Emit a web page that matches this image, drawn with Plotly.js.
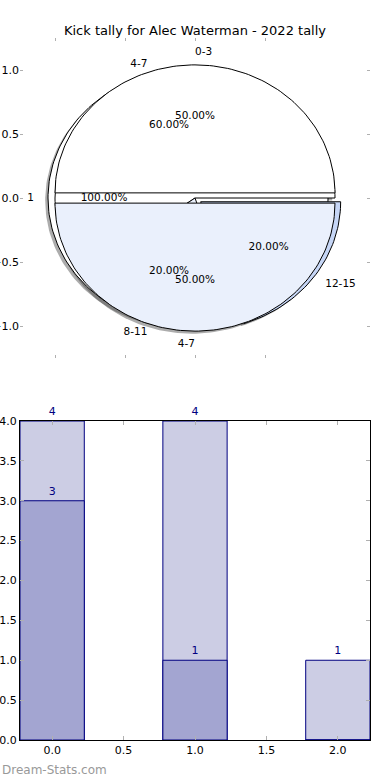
<!DOCTYPE html>
<html><head><meta charset="utf-8">
<script src="https://cdn.plot.ly/plotly-3.0.1.min.js"></script>
<style>html,body{margin:0;padding:0;background:#fff}</style>
</head><body><div id="chart" style="width:390px;height:780px"></div>
<script>
// ---- data ----
const titleText = 'Kick tally for Alec Waterman - 2022 tally';
const pieA_labels = ['1'];
const pieA_values = [1];
const pieB_labels = ['4-7', '8-11', '12-15'];
const pieB_values = [3, 1, 1];
const pieC_labels = ['0-3', '4-7'];
const pieC_values = [1, 1];
const barX = [0, 1, 2];
const barTotal = [4, 4, 1];
const barPart = [3, 1, 0];
const watermark = 'Dream-Stats.com';

// ---- styling ----
const pieA_explode = [0.05];
const pieB_explode = [0, 0, 0.05];
const pieC_explode = [0.04, 0.04];
const pieA_colors = ['#ffffff'];
const pieB_colors = ['#ffffff', '#eaf0fc', '#c6d6f6'];
const pieC_colors = ['#ffffff', '#eaf0fc'];
const FONT = 'DejaVu Sans, sans-serif';
const W = 390, H = 780, M = {l: 20, r: 20, t: 38, b: 40};
const plotH = H - M.t - M.b;

// matplotlib-style pie geometry (start at 3 o'clock, counterclockwise)
function pieWedges(values, explode) {
  const tot = values.reduce((a, b) => a + b, 0);
  let a0 = 0;
  return values.map((v, i) => {
    const a1 = a0 + 360 * v / tot;
    const mid = (a0 + a1) / 2 * Math.PI / 180;
    const e = explode[i] || 0;
    const cx = e * Math.cos(mid), cy = e * Math.sin(mid);
    const xs = [], ys = [];
    const full = (a1 - a0) >= 359.999;
    if (!full) { xs.push(cx); ys.push(cy); }
    const n = Math.max(2, Math.ceil((a1 - a0) / 1.5));
    for (let k = 0; k <= n; k++) {
      const t = (a0 + (a1 - a0) * k / n) * Math.PI / 180;
      xs.push(cx + Math.cos(t)); ys.push(cy + Math.sin(t));
    }
    if (!full) { xs.push(cx); ys.push(cy); }
    const w = {xs, ys, c: Math.cos(mid), s: Math.sin(mid), e, frac: v / tot};
    a0 = a1;
    return w;
  });
}
const pies = [
  {labels: pieA_labels, wedges: pieWedges(pieA_values, pieA_explode), colors: pieA_colors},
  {labels: pieB_labels, wedges: pieWedges(pieB_values, pieB_explode), colors: pieB_colors},
  {labels: pieC_labels, wedges: pieWedges(pieC_values, pieC_explode), colors: pieC_colors}
];
const traces = [];
const base = {type: 'scatter', xaxis: 'x', yaxis: 'y', hoverinfo: 'skip', showlegend: false, cliponaxis: false};
// shadows
pies.forEach(p => p.wedges.forEach(w => {
  traces.push(Object.assign({}, base, {x: w.xs.map(v => v - 0.02), y: w.ys.map(v => v - 0.02),
    mode: 'lines', fill: 'toself', fillcolor: 'rgba(70,70,70,0.45)', line: {width: 0}}));
}));
// wedges
pies.forEach(p => p.wedges.forEach((w, i) => {
  traces.push(Object.assign({}, base, {x: w.xs, y: w.ys, mode: 'lines', fill: 'toself',
    fillcolor: p.colors[i], line: {color: '#000', width: 1}}));
}));
// texts (percent at 0.6, labels at 1.1 of radius)
pies.forEach(p => {
  const W_ = p.wedges;
  traces.push(Object.assign({}, base, {mode: 'text',
    x: W_.map(w => (0.6 + w.e) * w.c), y: W_.map(w => (0.6 + w.e) * w.s),
    text: W_.map(w => (w.frac * 100).toFixed(2) + '%'), textposition: 'middle center',
    textfont: {family: FONT, size: 10.5, color: '#000'}}));
  traces.push(Object.assign({}, base, {mode: 'text',
    x: W_.map(w => (1.1 + w.e) * w.c), y: W_.map(w => (1.1 + w.e) * w.s),
    text: p.labels, textposition: W_.map(w => w.c > 0 ? 'middle right' : 'middle left'),
    textfont: {family: FONT, size: 10.5, color: '#000'}}));
});
// bars
traces.push({type: 'bar', x: barX, y: barTotal, width: 0.45, xaxis: 'x2', yaxis: 'y2',
  marker: {color: '#cccde4', line: {color: '#000080', width: 1}},
  text: barTotal.map(v => v > 0 ? String(v) : ''), textposition: 'outside', cliponaxis: false,
  textfont: {family: FONT, size: 11, color: '#000080'}, hoverinfo: 'skip', showlegend: false});
traces.push({type: 'bar', x: barX, y: barPart, width: 0.45, xaxis: 'x2', yaxis: 'y2',
  marker: {color: '#a3a5d1', line: {color: '#000080', width: 1}},
  text: barPart.map(v => v > 0 ? String(v) : ''), textposition: 'outside', cliponaxis: false,
  textfont: {family: FONT, size: 11, color: '#000080'}, hoverinfo: 'skip', showlegend: false});

const tickCol = '#b0b0b0';
const layout = {
  width: W, height: H, margin: M, paper_bgcolor: '#fff', plot_bgcolor: 'rgba(0,0,0,0)',
  font: {family: FONT, size: 11, color: '#000'},
  barmode: 'overlay', showlegend: false,
  title: {text: titleText, font: {family: FONT, size: 13, color: '#000'}, x: 0.5, xref: 'paper', y: 1 - 30 / H, yanchor: 'middle'},
  xaxis: {domain: [0, 1], range: [-1.25, 1.25], tickvals: [-1, -0.5, 0, 0.5], showticklabels: false,
    ticks: 'inside', ticklen: 3, tickcolor: tickCol, mirror: 'ticks', showline: false, zeroline: false, showgrid: false, anchor: 'y', fixedrange: true},
  yaxis: {domain: [(H - M.b - 358) / plotH, 1], range: [-1.25, 1.25], tickvals: [-1, -0.5, 0, 0.5, 1], tickformat: '.1f',
    ticks: 'inside', ticklen: 3, tickcolor: tickCol, mirror: 'ticks', showline: false, zeroline: false, showgrid: false, anchor: 'x', fixedrange: true},
  xaxis2: {domain: [0, 1], range: [-0.225, 2.225], dtick: 0.5, tick0: 0, tickformat: '.1f', anchor: 'y2',
    ticks: 'inside', ticklen: 4, tickcolor: tickCol, mirror: 'ticks', showline: true, linecolor: '#000', linewidth: 1, zeroline: false, showgrid: false},
  yaxis2: {domain: [0, (H - M.b - 421) / plotH], range: [0, 4], dtick: 0.5, tick0: 0, tickformat: '.1f', anchor: 'x2',
    ticks: 'inside', ticklen: 4, tickcolor: tickCol, mirror: 'ticks', showline: true, linecolor: '#000', linewidth: 1, zeroline: false, showgrid: false},
  annotations: [{text: watermark, xref: 'paper', yref: 'paper', x: -M.l / (W - M.l - M.r), y: -(770 - (H - M.b)) / plotH,
    xanchor: 'left', yanchor: 'middle', showarrow: false, font: {family: FONT, size: 12, color: '#999'}}]
};
Plotly.newPlot('chart', traces, layout, {staticPlot: true, displayModeBar: false});
</script></body></html>
